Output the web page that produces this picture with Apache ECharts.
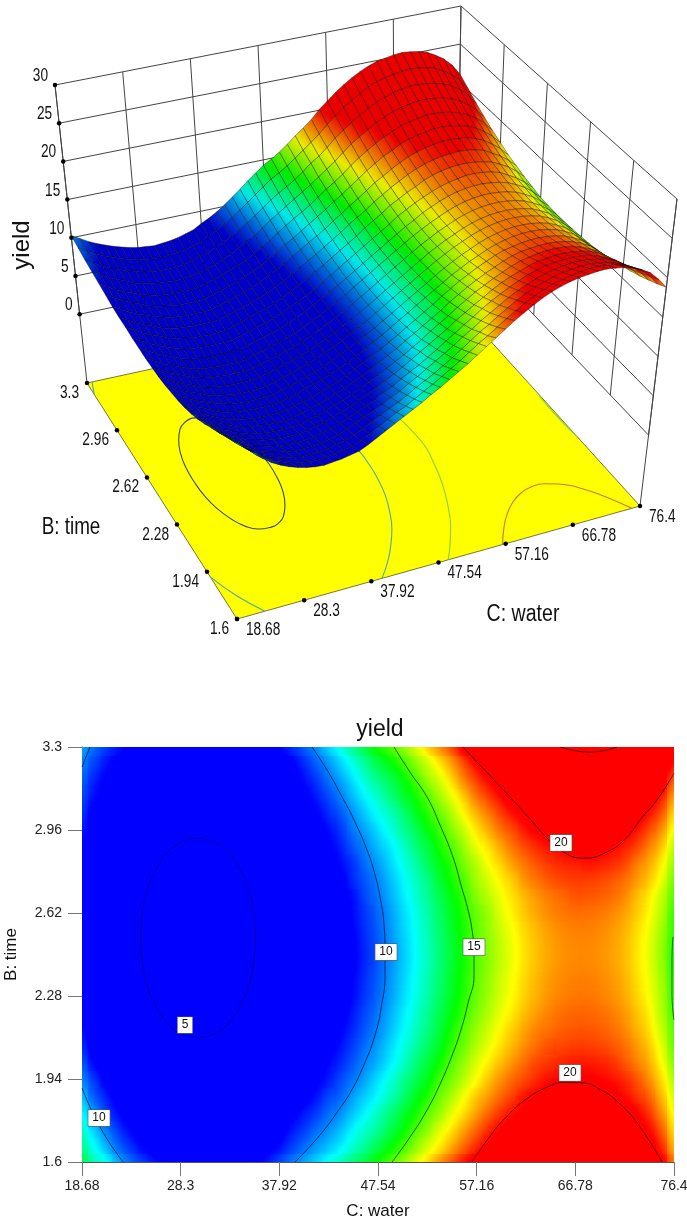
<!DOCTYPE html>
<html><head><meta charset="utf-8">
<style>html,body{margin:0;padding:0;background:#fff}#c{width:687px;height:1218px}</style>
<script src="https://cdn.jsdelivr.net/npm/echarts@6/dist/echarts.min.js"></script>
</head><body><div id="c"></div>
<script>
// tick labels
const waterTicks=[18.68,28.3,37.92,47.54,57.16,66.78,76.4];
const timeTicks=[1.6,1.94,2.28,2.62,2.96,3.3];
const yieldTicks=[0,5,10,15,20,25,30];
// grid positions of the response surface
const waterGrid=[18.68,19.88,21.09,22.29,23.49,24.69,25.9,27.1,28.3,29.5,30.71,31.91,33.11,34.31,35.52,36.72,37.92,39.12,40.33,41.53,42.73,43.93,45.14,46.34,47.54,48.74,49.95,51.15,52.35,53.55,54.76,55.96,57.16,58.36,59.57,60.77,61.97,63.17,64.38,65.58,66.78,67.98,69.19,70.39,71.59,72.79,74,75.2,76.4];
const timeGrid=[1.6,1.668,1.736,1.804,1.872,1.94,2.008,2.076,2.144,2.212,2.28,2.348,2.416,2.484,2.552,2.62,2.688,2.756,2.824,2.892,2.96,3.028,3.096,3.164,3.232,3.3];
// yield, one list per water column, from time 1.6 up to 3.3
const y00=[13.2,12.6,12,11.3,10.6,9.9,9.3,8.8,8.4,8.1,7.9,7.7,7.6,7.6,7.6,7.7,7.8,8,8.1,8.3,8.6,8.9,9.2,9.5,9.9,10.3];
const y01=[12.3,11.7,11,10.3,9.6,9.1,8.5,8.1,7.7,7.4,7.2,7.1,7,7,7,7.1,7.2,7.4,7.5,7.7,8,8.2,8.6,8.9,9.3,9.7];
const y02=[11.5,10.7,10,9.3,8.8,8.2,7.8,7.4,7.1,6.8,6.6,6.5,6.4,6.4,6.4,6.5,6.6,6.8,6.9,7.1,7.4,7.6,8,8.3,8.7,9.1];
const y03=[10.4,9.7,9.1,8.5,8,7.5,7.1,6.8,6.5,6.3,6.1,6,5.9,5.9,5.9,6,6.1,6.3,6.4,6.6,6.9,7.1,7.5,7.8,8.2,8.6];
const y04=[9.6,9,8.4,7.9,7.4,7,6.6,6.3,6,5.8,5.7,5.6,5.5,5.5,5.5,5.6,5.7,5.9,6,6.2,6.5,6.7,7.1,7.4,7.8,8.2];
const y05=[9,8.4,7.8,7.3,6.8,6.4,6.1,5.8,5.5,5.3,5.2,5.1,5,5,5,5.1,5.2,5.4,5.5,5.8,6,6.3,6.6,7,7.4,7.8];
const y06=[8.5,7.9,7.4,6.9,6.5,6.1,5.7,5.4,5.2,5,4.9,4.8,4.7,4.7,4.7,4.8,4.9,5.1,5.2,5.5,5.7,6,6.3,6.7,7.1,7.5];
const y07=[8.1,7.5,7,6.6,6.2,5.8,5.5,5.2,5,4.8,4.6,4.6,4.5,4.5,4.5,4.6,4.7,4.9,5,5.2,5.5,5.7,6.1,6.4,6.8,7.2];
const y08=[7.8,7.3,6.8,6.4,6,5.6,5.3,5.1,4.8,4.7,4.5,4.4,4.4,4.4,4.4,4.5,4.6,4.7,4.9,5.1,5.3,5.6,5.9,6.2,6.6,7];
const y09=[7.6,7.1,6.6,6.2,5.8,5.5,5.2,4.9,4.7,4.6,4.4,4.3,4.3,4.3,4.3,4.4,4.5,4.6,4.8,5,5.2,5.5,5.8,6.1,6.5,6.9];
const y10=[7.5,7,6.6,6.2,5.8,5.5,5.2,4.9,4.7,4.6,4.4,4.3,4.3,4.3,4.3,4.4,4.5,4.6,4.8,5,5.2,5.5,5.7,6.1,6.4,6.8];
const y11=[7.6,7.1,6.6,6.2,5.8,5.5,5.2,4.9,4.7,4.6,4.4,4.3,4.3,4.3,4.3,4.4,4.5,4.6,4.8,5,5.2,5.5,5.8,6.1,6.5,6.9];
const y12=[7.7,7.2,6.7,6.3,5.9,5.6,5.3,5,4.8,4.7,4.5,4.4,4.4,4.4,4.4,4.5,4.6,4.7,4.9,5.1,5.3,5.6,5.9,6.2,6.6,7];
const y13=[7.9,7.4,7,6.5,6.2,5.9,5.6,5.3,5.1,4.9,4.8,4.7,4.7,4.7,4.7,4.8,4.9,5,5.2,5.4,5.6,5.9,6.1,6.5,6.8,7.2];
const y14=[8.1,7.6,7.2,6.8,6.4,6.1,5.8,5.6,5.4,5.2,5.1,5,5,5,5,5.1,5.2,5.3,5.5,5.7,5.9,6.2,6.4,6.8,7.1,7.5];
const y15=[8.6,8.1,7.6,7.2,6.8,6.5,6.2,5.9,5.7,5.6,5.4,5.3,5.3,5.3,5.3,5.4,5.5,5.6,5.8,6,6.2,6.5,6.7,7.1,7.4,7.8];
const y16=[9.2,8.6,8.1,7.7,7.3,6.9,6.6,6.3,6.1,5.9,5.7,5.7,5.6,5.6,5.6,5.7,5.8,6,6.1,6.4,6.6,6.9,7.2,7.6,8,8.4];
const y17=[9.8,9.2,8.7,8.2,7.7,7.3,7,6.7,6.4,6.2,6.1,6,5.9,5.9,5.9,6,6.1,6.3,6.5,6.7,7,7.3,7.6,8,8.4,8.9];
const y18=[10.4,9.8,9.2,8.7,8.2,7.8,7.4,7.1,6.8,6.6,6.5,6.4,6.3,6.3,6.3,6.4,6.6,6.7,6.9,7.2,7.5,7.8,8.2,8.6,9,9.5];
const y19=[11,10.4,9.8,9.2,8.7,8.3,7.9,7.6,7.3,7.1,7,6.9,6.8,6.8,6.8,6.9,7.1,7.2,7.5,7.7,8,8.4,8.8,9.2,9.7,10.2];
const y20=[11.6,10.9,10.3,9.8,9.3,8.8,8.5,8.1,7.9,7.6,7.5,7.4,7.3,7.3,7.4,7.4,7.6,7.8,8,8.3,8.6,9,9.4,9.9,10.4,11];
const y21=[12.2,11.5,10.9,10.3,9.8,9.4,9,8.7,8.4,8.1,8,7.9,7.8,7.8,7.9,8,8.1,8.3,8.6,8.9,9.2,9.6,10.1,10.6,11.2,11.8];
const y22=[12.9,12.2,11.6,11,10.5,10,9.6,9.3,9,8.8,8.6,8.5,8.4,8.4,8.5,8.6,8.7,9,9.2,9.6,10,10.4,10.9,11.4,12,12.7];
const y23=[13.5,12.8,12.2,11.6,11.1,10.6,10.2,9.9,9.6,9.4,9.2,9.1,9,9,9.1,9.2,9.4,9.6,9.9,10.2,10.6,11.1,11.6,12.2,12.8,13.5];
const y24=[14.2,13.5,12.8,12.3,11.7,11.3,10.8,10.5,10.2,10,9.8,9.7,9.6,9.6,9.7,9.8,10,10.2,10.5,10.9,11.3,11.8,12.3,12.9,13.6,14.3];
const y25=[14.9,14.2,13.5,13,12.4,12,11.5,11.2,10.9,10.7,10.5,10.4,10.3,10.3,10.4,10.5,10.7,10.9,11.2,11.5,12,12.4,13,13.5,14.2,14.9];
const y26=[15.6,14.9,14.2,13.7,13.1,12.7,12.2,11.9,11.6,11.4,11.2,11.1,11,11,11.1,11.2,11.4,11.6,11.9,12.2,12.7,13.1,13.7,14.2,14.9,15.6];
const y27=[16.4,15.7,15,14.4,13.9,13.4,13,12.6,12.3,12.1,11.9,11.8,11.7,11.7,11.8,11.9,12.1,12.3,12.6,13,13.4,13.9,14.4,15,15.7,16.4];
const y28=[17.2,16.5,15.8,15.2,14.6,14.1,13.7,13.3,13,12.8,12.6,12.5,12.4,12.4,12.5,12.6,12.8,13,13.4,13.7,14.2,14.7,15.2,15.9,16.5,17.3];
const y29=[18,17.2,16.6,15.9,15.4,14.9,14.4,14,13.7,13.5,13.3,13.2,13.1,13.1,13.2,13.3,13.5,13.8,14.1,14.5,14.9,15.4,16,16.6,17.3,18.1];
const y30=[18.8,18,17.3,16.7,16.1,15.6,15.2,14.8,14.5,14.2,14,13.9,13.8,13.8,13.9,14,14.2,14.5,14.8,15.2,15.7,16.2,16.8,17.5,18.2,19];
const y31=[19.6,18.8,18.1,17.4,16.9,16.3,15.9,15.5,15.2,14.9,14.7,14.6,14.5,14.5,14.6,14.7,14.9,15.2,15.6,16,16.5,17.1,17.7,18.5,19.2,20.1];
const y32=[20.3,19.5,18.8,18.1,17.6,17,16.6,16.2,15.9,15.6,15.4,15.3,15.2,15.2,15.3,15.4,15.7,16,16.3,16.8,17.3,17.9,18.6,19.3,20.1,21];
const y33=[21,20.2,19.5,18.8,18.2,17.7,17.2,16.8,16.5,16.2,16,15.9,15.8,15.8,15.9,16,16.3,16.6,17,17.4,18,18.6,19.3,20.1,21,21.9];
const y34=[21.6,20.8,20.1,19.4,18.8,18.3,17.8,17.4,17.1,16.8,16.6,16.5,16.4,16.4,16.5,16.7,16.9,17.2,17.6,18.1,18.7,19.3,20,20.8,21.7,22.7];
const y35=[22.1,21.3,20.6,19.9,19.3,18.8,18.3,17.9,17.6,17.3,17.1,17,16.9,16.9,17,17.2,17.4,17.7,18.2,18.7,19.2,19.9,20.7,21.5,22.4,23.4];
const y36=[22.5,21.7,21,20.3,19.8,19.2,18.8,18.4,18.1,17.8,17.6,17.5,17.4,17.4,17.5,17.7,17.9,18.3,18.7,19.2,19.8,20.4,21.2,22.1,23,24];
const y37=[22.8,22,21.3,20.7,20.1,19.6,19.2,18.8,18.5,18.2,18,17.9,17.8,17.8,17.9,18.1,18.3,18.7,19.1,19.6,20.2,20.9,21.7,22.5,23.5,24.5];
const y38=[23,22.2,21.6,20.9,20.4,19.9,19.4,19.1,18.7,18.5,18.3,18.2,18.1,18.1,18.2,18.4,18.6,19,19.4,19.9,20.5,21.2,22,22.9,23.8,24.9];
const y39=[23.1,22.4,21.7,21.1,20.5,20,19.6,19.2,18.9,18.7,18.5,18.4,18.3,18.3,18.4,18.6,18.8,19.2,19.6,20.1,20.7,21.4,22.2,23.1,24,25.1];
const y40=[23.2,22.5,21.8,21.2,20.6,20.1,19.7,19.3,19,18.8,18.6,18.5,18.4,18.4,18.5,18.7,19,19.3,19.7,20.3,20.9,21.6,22.4,23.3,24.2,25.3];
const y41=[23.2,22.5,21.8,21.2,20.6,20.1,19.7,19.3,19,18.8,18.6,18.5,18.4,18.4,18.5,18.7,19,19.3,19.8,20.3,20.9,21.6,22.4,23.3,24.3,25.4];
const y42=[23,22.3,21.6,21,20.5,20,19.6,19.2,18.9,18.7,18.5,18.4,18.3,18.3,18.4,18.6,18.9,19.2,19.7,20.2,20.8,21.5,22.3,23.2,24.2,25.3];
const y43=[22.8,22.1,21.4,20.8,20.3,19.8,19.4,19,18.7,18.5,18.3,18.2,18.1,18.1,18.2,18.4,18.7,19,19.5,20,20.6,21.3,22.1,23,24,25.1];
const y44=[22.4,21.7,21,20.5,19.9,19.5,19,18.7,18.4,18.2,18,17.9,17.8,17.8,17.9,18.1,18.4,18.7,19.2,19.7,20.3,21,21.8,22.7,23.7,24.8];
const y45=[21.9,21.2,20.5,20,19.4,19,18.5,18.2,17.9,17.7,17.5,17.4,17.3,17.3,17.4,17.6,17.8,18.2,18.6,19.2,19.8,20.5,21.3,22.2,23.1,24.2];
const y46=[21.2,20.5,19.9,19.3,18.8,18.3,17.9,17.6,17.3,17.1,16.9,16.8,16.7,16.7,16.8,17,17.2,17.6,18,18.5,19.1,19.8,20.6,21.5,22.4,23.5];
const y47=[20.1,19.5,18.9,18.3,17.8,17.4,17,16.7,16.4,16.2,16.1,16,15.9,15.9,16,16.2,16.4,16.8,17.2,17.7,18.3,19,19.7,20.6,21.5,22.5];
const y48=[18.8,18.2,17.7,17.2,16.8,16.4,16,15.7,15.5,15.3,15.2,15.1,15,15,15.1,15.2,15.5,15.8,16.2,16.6,17.2,17.8,18.5,19.3,20.2,21.1];
const yieldTable=[y00,y01,y02,y03,y04,y05,y06,y07,y08,y09,y10,y11,y12,y13,y14,y15,y16,y17,y18,y19,y20,y21,y22,y23,y24,y25,y26,y27,y28,y29,y30,y31,y32,y33,y34,y35,y36,y37,y38,y39,y40,y41,y42,y43,y44,y45,y46,y47,y48];
// contours as [water, time]
const contour5=[[29.7,2.927],[31.44,2.913],[32.82,2.874],[33.96,2.807],[34.87,2.722],[35.4,2.624],[35.6,2.517],[35.4,2.411],[34.87,2.313],[33.96,2.228],[32.82,2.161],[31.44,2.122],[30.48,2.112],[28.54,2.122],[27.16,2.161],[26.02,2.228],[25.12,2.313],[24.58,2.411],[24.43,2.517],[24.58,2.624],[25.12,2.722],[26.02,2.807],[27.16,2.874],[28.54,2.913],[29.7,2.927]];
const contour10Main=[[41.1,3.3],[42.57,3.206],[43.84,3.111],[45.2,3.001],[46.47,2.878],[47.25,2.776],[47.74,2.685],[48.13,2.571],[48.22,2.468],[48.22,2.366],[47.93,2.251],[47.25,2.12],[46.08,1.989],[44.98,1.895],[43.84,1.821],[41.89,1.711],[39.45,1.6]];
const contour10TopLeft=[[19.46,3.3],[18.68,3.218]];
const contour10BottomLeft=[[18.68,1.903],[20.44,1.743],[22.68,1.6]];
const contour15Main=[[49.1,3.3],[50.66,3.197],[52.32,3.095],[53.59,2.98],[54.85,2.849],[55.63,2.735],[56.32,2.632],[56.71,2.55],[56.9,2.46],[56.9,2.366],[56.32,2.251],[55.63,2.141],[54.85,2.046],[53.69,1.928],[52.32,1.813],[50.66,1.702],[48.91,1.6]];
const contour15Right=[[76.4,2.182],[76.2,2.292],[76.2,2.427],[76.3,2.522]];
const contour20Top=[[55.83,3.3],[57.49,3.226],[59.14,3.152],[61.58,3.042],[64.02,2.927],[65.29,2.878],[67.53,2.845],[69.87,2.87],[71.82,2.931],[73.09,3.001],[74.74,3.083],[76.4,3.193]];
const contour20Bottom=[[56.71,1.6],[58.46,1.706],[60.12,1.788],[62.07,1.86],[64.02,1.906],[65.77,1.926],[67.53,1.924],[69.19,1.897],[71.14,1.838],[73.09,1.743],[75.23,1.6]];
const contour25Top=[[65.29,3.3],[68.21,3.279],[70.84,3.3]];
const contourLabels=[[48.32,2.46,10],[56.9,2.48,15],[65.38,2.907,20],[66.26,1.965,20],[28.72,2.161,5],[20.34,1.78,10]];

// projection of the 3D box: corners of the box in page pixels
const floorZ=-9, topZ=30;
const box={p000:[237,619],p100:[640,506],p010:[87,383],p110:[456,303],p001:[237,311],p101:[677,199],p011:[55,85],p111:[461,6]};
const wMin=waterTicks[0],wMax=waterTicks[6],tMin=timeTicks[0],tMax=timeTicks[5];
function project(c,b,z){
  const u=(c-wMin)/(wMax-wMin),v=(b-tMin)/(tMax-tMin),w=(z-floorZ)/(topZ-floorZ);
  const r=[];
  for(let k=0;k<2;k++){
    const a=box.p000[k]*(1-u)+box.p100[k]*u, d=box.p010[k]*(1-u)+box.p110[k]*u;
    const e=box.p001[k]*(1-u)+box.p101[k]*u, f=box.p011[k]*(1-u)+box.p111[k]*u;
    const lo=a*(1-v)+d*v, hi=e*(1-v)+f*v;
    r.push(lo*(1-w)+hi*w);
  }
  return r;
}
const stops=[[8.5,0,0,255],[11.7,0,255,255],[14.3,0,255,0],[17,255,255,0],[20,255,0,0]];
function rgb(z,s){
  let c;
  if(z<=stops[0][0])c=stops[0].slice(1);
  else if(z>=stops[4][0])c=stops[4].slice(1);
  else for(let i=0;i<4;i++){ if(z<=stops[i+1][0]){const t=(z-stops[i][0])/(stops[i+1][0]-stops[i][0]);
    c=[1,2,3].map(k=>stops[i][k]*(1-t)+stops[i+1][k]*t);break;} }
  return 'rgb('+c.map(x=>Math.round(x*s)).join(',')+')';
}
const shade=z=>z<=8.5?.78:z>=12?.92:.78+(z-8.5)/3.5*.14;
// colour ramp between two heights for one mark
function ramp(x1,y1,x2,y2,z1,z2,lit){
  const n=6,cs=[];
  for(let k=0;k<=n;k++){const z=z1+(z2-z1)*k/n;cs.push({offset:k/n,color:rgb(z,lit?shade(z):1)});}
  return new echarts.graphic.LinearGradient(x1,y1,x2,y2,cs,true);
}
// data lists for the custom series
const cells=[];
waterGrid.forEach((c,i)=>timeGrid.forEach((b,j)=>cells.push([c,b,yieldTable[i][j],i,j])));
const quads=[];
for(let i=waterGrid.length-2;i>=0;i--)for(let j=timeGrid.length-2;j>=0;j--)quads.push([i,j]);
const wallSegs=[];
yieldTicks.forEach(z=>{wallSegs.push([wMin,tMax,z,wMax,tMax,z]);wallSegs.push([wMax,tMax,z,wMax,tMin,z]);});
waterTicks.forEach(c=>wallSegs.push([c,tMax,0,c,tMax,topZ]));
timeTicks.forEach(b=>wallSegs.push([wMax,b,0,wMax,b,topZ]));
wallSegs.push([wMin,tMax,floorZ,wMin,tMax,topZ]);
wallSegs.push([wMax,tMin,floorZ,wMax,tMin,topZ]);
const dots=[].concat(
  yieldTicks.map(z=>project(wMin,tMax,z)),
  timeTicks.map(b=>project(wMin,b,floorZ)),
  waterTicks.map(c=>project(c,tMin,floorZ)));
const texts=[].concat(
  yieldTicks.map(z=>{const p=project(wMin,tMax,z);return {t:String(z),x:p[0]-7,y:p[1]-9,a:'right',fs:18,sx:.76};}),
  timeTicks.map(b=>{const p=project(wMin,b,floorZ);return {t:String(b),x:p[0]-8,y:p[1]+10,a:'right',fs:18,sx:.76};}),
  waterTicks.map(c=>{const p=project(c,tMin,floorZ);return {t:String(c),x:p[0]+9,y:p[1]+11,a:'left',fs:18,sx:.76};}),
  [{t:'B: time',x:71,y:528,a:'center',fs:23,sx:.82},{t:'C: water',x:523,y:615,a:'center',fs:23,sx:.85},{t:'yield',x:22,y:245,a:'center',fs:24,sx:1,rot:Math.PI/2}]);

function floorLine(name,data,color){
  return {type:'line',name,xAxisIndex:1,yAxisIndex:1,z:3,data:data.map(p=>project(p[0],p[1],floorZ)),smooth:.5,showSymbol:false,silent:true,
    lineStyle:{color,width:1.1},animation:false};
}
function planLine(name,data,color){
  return {type:'line',name,xAxisIndex:0,yAxisIndex:0,z:4,data,smooth:.5,showSymbol:false,silent:true,lineStyle:{color,width:1},animation:false};
}
const c5='#3b4a58',c10='#4fa8a8',c15='#86cf3a',c20='#c9772a';
const dk='rgba(0,0,0,.62)';
const series=[
 // plan view cells
 {type:'custom',xAxisIndex:0,yAxisIndex:0,z:2,silent:true,animation:false,progressive:0,data:cells,encode:{x:0,y:1},
  renderItem(p,api){
    const i=api.value(3),j=api.value(4),c=api.value(0),b=api.value(1),z=api.value(2);
    const x0=i?(waterGrid[i-1]+c)/2:c, x1=i<48?(waterGrid[i+1]+c)/2:c;
    const y0=j?(timeGrid[j-1]+b)/2:b, y1=j<25?(timeGrid[j+1]+b)/2:b;
    const a=api.coord([x0,y1]),d=api.coord([x1,y0]);
    const rx=Math.floor(a[0]),ry=Math.floor(a[1]),rw=Math.ceil(d[0]-rx),rh=Math.ceil(d[1]-ry);
    // local slope of the table, per page pixel, so that the cell colour runs on into its neighbours
    const il=Math.max(i-1,0),ir=Math.min(i+1,48),jl=Math.max(j-1,0),jr=Math.min(j+1,25);
    const pxX=api.coord([waterGrid[ir],b])[0]-api.coord([waterGrid[il],b])[0];
    const pxY=api.coord([c,timeGrid[jr]])[1]-api.coord([c,timeGrid[jl]])[1];
    const gx=(yieldTable[ir][j]-yieldTable[il][j])/pxX, gy=(yieldTable[i][jr]-yieldTable[i][jl])/pxY;
    const g2=gx*gx+gy*gy, D=Math.abs(gx)*rw/2+Math.abs(gy)*rh/2;
    const cx=rx+rw/2,cy=ry+rh/2;
    const fill=g2<1e-6?rgb(z,1):ramp(cx-gx*D/g2,cy-gy*D/g2,cx+gx*D/g2,cy+gy*D/g2,z-D,z+D,false);
    return {type:'rect',shape:{x:rx,y:ry,width:rw,height:rh},style:{fill}};
  }},
 planLine('5',contour5,'rgba(0,0,70,.45)'),
 planLine('10',contour10Main,dk),planLine('10',contour10TopLeft,dk),planLine('10',contour10BottomLeft,dk),
 planLine('15',contour15Main,dk),planLine('15',contour15Right,dk),
 planLine('20',contour20Top,dk),planLine('20',contour20Bottom,dk),planLine('25',contour25Top,dk),
 {type:'scatter',xAxisIndex:0,yAxisIndex:0,z:6,silent:true,animation:false,symbolSize:1,itemStyle:{color:'#fff',opacity:1},data:contourLabels,
  label:{show:true,position:'inside',opacity:1,formatter:o=>String(o.value[2]),fontFamily:'Liberation Sans',fontSize:12,color:'#111',backgroundColor:'#fff',borderColor:'#555',borderWidth:.6,padding:[3,4,1,4]}},
 // 3D walls
 {type:'custom',xAxisIndex:1,yAxisIndex:1,z:1,silent:true,animation:false,data:wallSegs,encode:{x:0,y:1},
  renderItem(p,api){
    const a=project(api.value(0),api.value(1),api.value(2)),d=project(api.value(3),api.value(4),api.value(5));
    const A=api.coord(a),D=api.coord(d);
    return {type:'line',shape:{x1:A[0],y1:A[1],x2:D[0],y2:D[1]},style:{stroke:'#444',lineWidth:1,fill:null}};
  }},
 // floor plane
 {type:'custom',xAxisIndex:1,yAxisIndex:1,z:2,silent:true,animation:false,data:[[wMin,tMin]],encode:{x:0,y:1},
  renderItem(p,api){
    const pts=[[wMin,tMin],[wMax,tMin],[wMax,tMax],[wMin,tMax]].map(q=>api.coord(project(q[0],q[1],floorZ)));
    return {type:'polygon',shape:{points:pts},style:{fill:'#ffff00',stroke:'#77773a',lineWidth:1}};
  }},
 floorLine('5',contour5,c5),
 floorLine('10',contour10Main,c10),floorLine('10',contour10TopLeft,c10),floorLine('10',contour10BottomLeft,c10),
 floorLine('15',contour15Main,c15),floorLine('15',contour15Right,c15),
 floorLine('20',contour20Top,c20),floorLine('20',contour20Bottom,c20),
 // 3D surface, far cells first
 {type:'custom',xAxisIndex:1,yAxisIndex:1,z:5,silent:true,animation:false,progressive:0,data:quads,encode:{x:0,y:1},
  renderItem(p,api){
    const i=api.value(0),j=api.value(1);
    const corner=(a,b)=>api.coord(project(waterGrid[a],timeGrid[b],yieldTable[a][b]));
    const A=corner(i,j),B=corner(i+1,j),C=corner(i+1,j+1),D=corner(i,j+1);
    const zL=(yieldTable[i][j]+yieldTable[i][j+1])/2, zR=(yieldTable[i+1][j]+yieldTable[i+1][j+1])/2;
    const fill=ramp((A[0]+D[0])/2,(A[1]+D[1])/2,(B[0]+C[0])/2,(B[1]+C[1])/2,zL,zR,true);
    return {type:'polygon',shape:{points:[A,B,C,D]},style:{fill,stroke:'rgba(0,0,0,.6)',lineWidth:.6}};
  }},
 {type:'scatter',xAxisIndex:1,yAxisIndex:1,z:7,silent:true,animation:false,symbolSize:4.5,itemStyle:{color:'#000',opacity:1},data:dots},
 {type:'custom',xAxisIndex:1,yAxisIndex:1,z:8,silent:true,animation:false,data:texts.map((t,i)=>[t.x,t.y,i]),encode:{x:0,y:1},
  renderItem(p,api){
    const t=texts[api.value(2)],P=api.coord([t.x,t.y]);
    return {type:'text',x:P[0],y:P[1],scaleX:t.rot?1:t.sx,rotation:t.rot||0,
      style:{text:t.t,fontFamily:'Liberation Sans',fontSize:t.fs,fill:'#111',align:t.a,verticalAlign:'middle'}};
  }}
];
const tickStyle={show:true,length:14,lineStyle:{color:'#777',width:1}};
const labelFont={fontFamily:'Liberation Sans',fontSize:14,color:'#222',formatter:v=>String(v),showMinLabel:true,showMaxLabel:true};
const chart=echarts.init(document.getElementById('c'),null,{renderer:'canvas'});
chart.setOption({
 animation:false,backgroundColor:'#fff',
 title:{text:'yield',left:375,top:713,textAlign:'center',textStyle:{fontFamily:'Liberation Sans',fontWeight:'normal',fontSize:23,color:'#111'}},
 grid:[{left:82,top:747,width:592,height:415,show:false,outerBoundsMode:'none'},{left:0,top:0,width:687,height:1218,show:false,outerBoundsMode:'none'}],
 xAxis:[
  {type:'value',gridIndex:0,min:wMin,max:wMax,splitLine:{show:false},axisLine:{lineStyle:{color:'#555'},onZero:false},
   axisTick:{...tickStyle,customValues:waterTicks},axisLabel:{...labelFont,margin:17,customValues:waterTicks},
   name:'C: water',nameLocation:'middle',nameGap:41,nameTextStyle:{fontFamily:'Liberation Sans',fontSize:17,color:'#111'}},
  {type:'value',gridIndex:1,min:0,max:687,show:false}],
 yAxis:[
  {type:'value',gridIndex:0,min:tMin,max:tMax,splitLine:{show:false},axisLine:{lineStyle:{color:'#555'},onZero:false},
   axisTick:{...tickStyle,customValues:timeTicks},axisLabel:{...labelFont,margin:20,customValues:timeTicks},
   name:'B: time',nameLocation:'middle',nameGap:62,nameRotate:90,nameTextStyle:{fontFamily:'Liberation Sans',fontSize:17,color:'#111'}},
  {type:'value',gridIndex:1,min:0,max:1218,inverse:true,show:false}],
 series
});
</script></body></html>
